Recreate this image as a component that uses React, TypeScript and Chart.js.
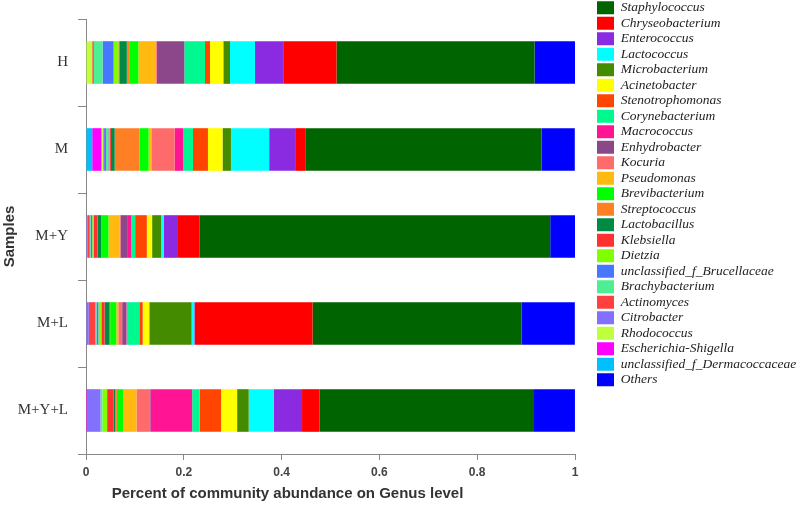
import React, { useEffect, useRef } from "react";
import { Chart, registerables } from "chart.js";

Chart.register(...registerables);

// Samples (categories on the y axis, top to bottom)
const samples = ["H", "M", "M+Y", "M+L", "M+Y+L"];

// Relative abundance per genus, in sample order [H, M, M+Y, M+L, M+Y+L]
const dermacoccaceae = [0, 0.0127, 0, 0, 0];
const escherichiaShigella = [0, 0.019, 0, 0, 0.002];
const rhodococcus = [0.0127, 0.0035, 0, 0, 0];
const citrobacter = [0, 0.0037, 0.0037, 0.0057, 0.0276];
const actinomyces = [0.0033, 0.002, 0.004, 0.0137, 0];
const brachybacterium = [0.018, 0.003, 0.0015, 0.002, 0.004];
const brucellaceae = [0.0225, 0.002, 0.0035, 0.004, 0];
const dietzia = [0.01, 0.002, 0.0027, 0.006, 0.0096];
const klebsiella = [0.002, 0.003, 0.0085, 0.0067, 0.0135];
const lactobacillus = [0.015, 0.0078, 0.0076, 0.0102, 0.0035];
const streptococcus = [0.0047, 0.051, 0.001, 0.001, 0.003];
const brevibacterium = [0.019, 0.0184, 0.0135, 0.0127, 0.013];
const pseudomonas = [0.036, 0.0055, 0.0225, 0.004, 0.027];
const kocuria = [0.0015, 0.0476, 0.002, 0.008, 0.0276];
const enhydrobacter = [0.0564, 0, 0.0151, 0.008, 0.001];
const macrococcus = [0, 0.0172, 0.0067, 0.001, 0.0853];
const corynebacterium = [0.0423, 0.0204, 0.0082, 0.026, 0.0155];
const stenotrophomonas = [0.0102, 0.0306, 0.0239, 0.0069, 0.0437];
const acinetobacter = [0.0272, 0.0298, 0.0108, 0.0135, 0.0327];
const microbacterium = [0.0137, 0.0172, 0.0184, 0.0866, 0.0237];
const lactococcus = [0.051, 0.0782, 0.0055, 0.0053, 0.0511];
const enterococcus = [0.0592, 0.0531, 0.0272, 0.001, 0.058];
const chryseobacterium = [0.1076, 0.0219, 0.0455, 0.241, 0.036];
const staphylococcus = [0.405, 0.482, 0.7175, 0.4276, 0.4384];
const others = [0.0827, 0.068, 0.051, 0.1088, 0.0837];

// Stacking order from left (0) to right (1)
const stackNames = [
  "unclassified_f_Dermacoccaceae",
  "Escherichia-Shigella",
  "Rhodococcus",
  "Citrobacter",
  "Actinomyces",
  "Brachybacterium",
  "unclassified_f_Brucellaceae",
  "Dietzia",
  "Klebsiella",
  "Lactobacillus",
  "Streptococcus",
  "Brevibacterium",
  "Pseudomonas",
  "Kocuria",
  "Enhydrobacter",
  "Macrococcus",
  "Corynebacterium",
  "Stenotrophomonas",
  "Acinetobacter",
  "Microbacterium",
  "Lactococcus",
  "Enterococcus",
  "Chryseobacterium",
  "Staphylococcus",
  "Others",
];
const stackValues = [
  dermacoccaceae, escherichiaShigella, rhodococcus, citrobacter, actinomyces,
  brachybacterium, brucellaceae, dietzia, klebsiella, lactobacillus,
  streptococcus, brevibacterium, pseudomonas, kocuria, enhydrobacter,
  macrococcus, corynebacterium, stenotrophomonas, acinetobacter, microbacterium,
  lactococcus, enterococcus, chryseobacterium, staphylococcus, others,
];

// Legend order (top to bottom)
const legendOrder = [
  "Staphylococcus",
  "Chryseobacterium",
  "Enterococcus",
  "Lactococcus",
  "Microbacterium",
  "Acinetobacter",
  "Stenotrophomonas",
  "Corynebacterium",
  "Macrococcus",
  "Enhydrobacter",
  "Kocuria",
  "Pseudomonas",
  "Brevibacterium",
  "Streptococcus",
  "Lactobacillus",
  "Klebsiella",
  "Dietzia",
  "unclassified_f_Brucellaceae",
  "Brachybacterium",
  "Actinomyces",
  "Citrobacter",
  "Rhodococcus",
  "Escherichia-Shigella",
  "unclassified_f_Dermacoccaceae",
  "Others",
];

const xTicks = [0, 0.2, 0.4, 0.6, 0.8, 1];
const xTitleText = "Percent of community abundance on Genus level";
const yTitleText = "Samples";

const colors: Record<string, string> = {
  Staphylococcus: "#006400",
  Chryseobacterium: "#FF0000",
  Enterococcus: "#8A2BE2",
  Lactococcus: "#00FFFF",
  Microbacterium: "#458B00",
  Acinetobacter: "#FFFF00",
  Stenotrophomonas: "#FF4500",
  Corynebacterium: "#00F890",
  Macrococcus: "#FF1493",
  Enhydrobacter: "#8B4789",
  Kocuria: "#FF6A6A",
  Pseudomonas: "#FFB90F",
  Brevibacterium: "#00FF00",
  Streptococcus: "#FF7F24",
  Lactobacillus: "#008B45",
  Klebsiella: "#FF3030",
  Dietzia: "#7FFF00",
  "unclassified_f_Brucellaceae": "#4876FF",
  Brachybacterium: "#4EEE94",
  Actinomyces: "#FF4040",
  Citrobacter: "#8470FF",
  Rhodococcus: "#C0FF3E",
  "Escherichia-Shigella": "#FF00FF",
  "unclassified_f_Dermacoccaceae": "#00BFFF",
  Others: "#0000FF",
};

const W = 797;
const H = 505;
const LEGEND_FONT = 13.5;
const LEGEND_BOX_W = 17;
const LEGEND_PAD = 2;

export default function App() {
  const ref = useRef<HTMLCanvasElement | null>(null);

  useEffect(() => {
    const canvas = ref.current;
    if (!canvas) return;

    // measure longest legend label to place the plot's right edge
    const mctx = canvas.getContext("2d")!;
    mctx.font = `italic ${LEGEND_FONT}px 'Liberation Serif'`;
    let maxW = 0;
    legendOrder.forEach((n) => {
      maxW = Math.max(maxW, mctx.measureText(n).width);
    });
    const legendWidth = LEGEND_PAD + LEGEND_BOX_W + LEGEND_FONT / 2 + maxW + 10;
    const plotRight = 575;
    const padRight = Math.max(0, W - plotRight - legendWidth);

    const legendShift = {
      id: "legendShift",
      afterLayout(chart: any) {
        const lg = chart.legend;
        if (!lg) return;
        lg.left += 20;
        lg.right += 20;
        lg.top -= 5;
      },
    };

    const xTitle = {
      id: "xTitle",
      afterDraw(chart: any) {
        const { ctx, chartArea } = chart;
        ctx.save();
        ctx.font = "bold 15px 'Liberation Sans', Arial, sans-serif";
        ctx.fillStyle = "#333";
        ctx.textAlign = "center";
        ctx.textBaseline = "middle";
        ctx.fillText(xTitleText, chartArea.right / 2, chart.scales.x.bottom - 11);
        ctx.restore();
      },
    };

    const chart = new Chart(canvas, {
      type: "bar",
      data: {
        labels: samples,
        datasets: stackNames.map((name, i) => ({
          label: name,
          data: stackValues[i],
          backgroundColor: colors[name],
          borderWidth: 0,
          barPercentage: 0.49,
          categoryPercentage: 1,
        })),
      },
      options: {
        indexAxis: "y",
        responsive: false,
        animation: false,
        devicePixelRatio: 1,
        layout: { padding: { top: 4, right: padRight, bottom: 0, left: 0 } },
        plugins: {
          tooltip: { enabled: false },
          legend: {
            position: "right",
            align: "start",
            maxWidth: 400,
            labels: {
              boxWidth: LEGEND_BOX_W,
              boxHeight: 13,
              padding: LEGEND_PAD,
              color: "#222",
              font: { family: "'Liberation Serif', serif", style: "italic", size: LEGEND_FONT },
              sort: (a: any, b: any) => legendOrder.indexOf(a.text) - legendOrder.indexOf(b.text),
            },
          },
        },
        scales: {
          x: {
            stacked: true,
            min: 0,
            max: 1,
            afterBuildTicks: (s: any) => {
              s.ticks = xTicks.map((v) => ({ value: v }));
            },
            ticks: {
              color: "#444",
              padding: 5,
              maxRotation: 0,
              font: { family: "'Liberation Sans', Arial, sans-serif", weight: "bold", size: 12 },
              callback: (v: any) => String(Math.round(Number(v) * 10) / 10),
            },
            grid: { drawOnChartArea: false, drawTicks: true, tickLength: 6, color: "#888" },
            border: { display: true, color: "#888", width: 1 },
            afterFit: (s: any) => {
              s.height = 51;
            },
          },
          y: {
            stacked: true,
            offset: true,
            ticks: {
              color: "#333",
              padding: 10,
              font: { family: "'Liberation Serif', serif", size: 15 },
            },
            grid: { offset: true, drawOnChartArea: false, drawTicks: true, tickLength: 8, color: "#888" },
            border: { display: true, color: "#888", width: 1 },
            title: {
              display: true,
              text: yTitleText,
              color: "#333",
              font: { family: "'Liberation Sans', Arial, sans-serif", weight: "bold", size: 15 },
              padding: { top: 1, bottom: 0 },
            },
            afterFit: (s: any) => {
              s.width = 86;
            },
          },
        },
      } as any,
      plugins: [legendShift, xTitle],
    });

    return () => {
      chart.destroy();
    };
  }, []);

  return (
    <div style={{ position: "absolute", left: 0, top: 0, width: W, height: H, background: "#fff" }}>
      <canvas ref={ref} width={W} height={H} style={{ display: "block", width: W, height: H }} />
    </div>
  );
}
